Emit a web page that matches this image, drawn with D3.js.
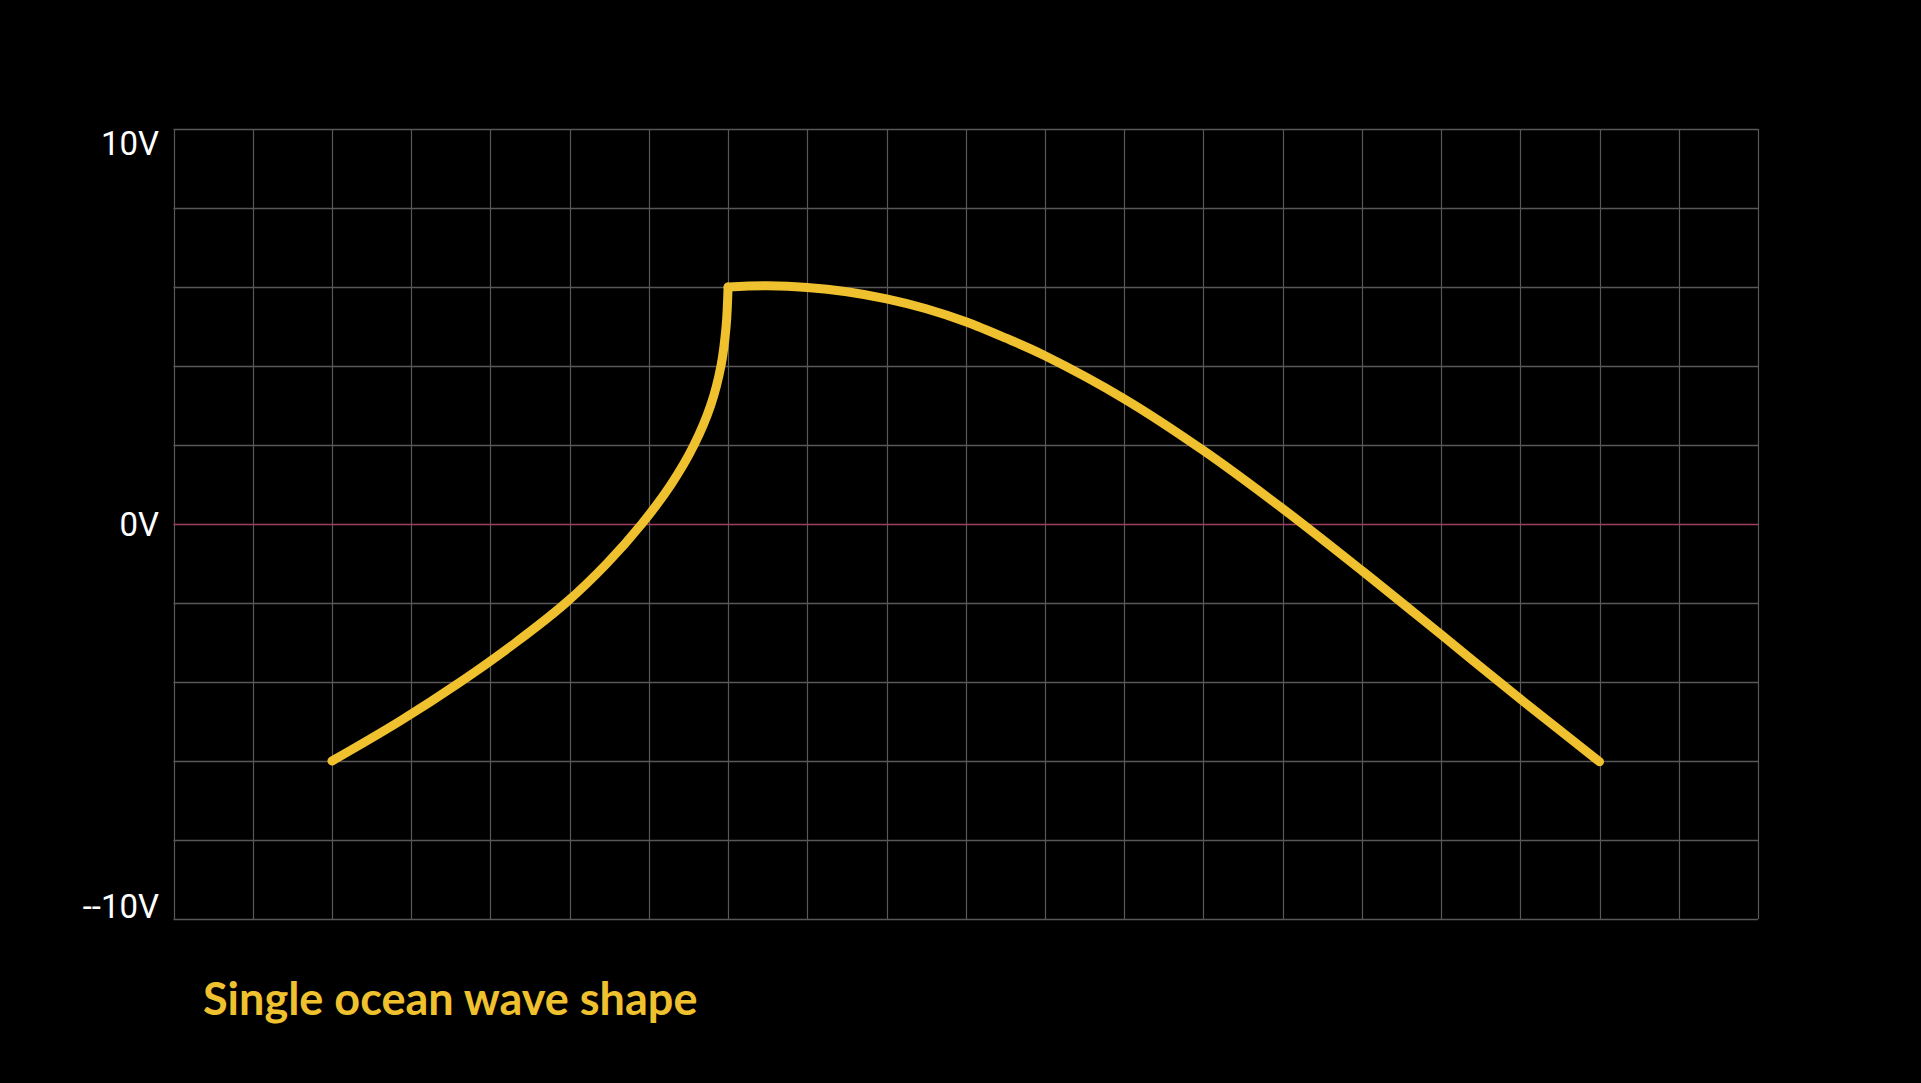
<!DOCTYPE html>
<html>
<head>
<meta charset="utf-8">
<script src="https://cdn.jsdelivr.net/npm/d3@7"></script>
<style>
  html, body { margin: 0; padding: 0; background: #000; }
  svg { display: block; }
</style>
</head>
<body>
<svg id="chart" width="1921" height="1083"></svg>
<script>
// ---- data ----
const titleText = "Single ocean wave shape";
const yTickValues = [10, 0, -10];
const yTickLabels = ["10V", "0V", "--10V"];
// rising front of the wave (time in grid columns, value in volts)
const riseTime  = [2, 2.85, 3.62, 4.32, 4.95, 5.47, 5.91, 6.28, 6.57, 6.78, 6.91, 6.975, 7];
const riseVolts = [-6, -5, -4, -3, -2, -1, 0, 1, 2, 3, 4, 5, 6];
// falling back of the wave
const fallTime  = [7, 7.5, 8, 8.5, 9, 9.5, 10, 10.5, 11, 12, 13, 14, 15, 16, 17, 18];
const fallVolts = [6, 6.03, 5.99, 5.88, 5.70, 5.45, 5.12, 4.71, 4.26, 3.17, 1.86, 0.39, -1.18, -2.80, -4.43, -6.02];

const xDomain = [0, 20];
const yDomain = [-10, 10];
const xGridCount = 20;
const yGridCount = 10;

// ---- layout ----
const svg = d3.select("#chart");
const plotLeft = 173.5, plotRight = 1758, plotTop = 129, plotBottom = 919;
const x = d3.scaleLinear().domain(xDomain).range([plotLeft, plotRight]);
const y = d3.scaleLinear().domain(yDomain).range([plotBottom, plotTop]);

const gridColor = "#585858";
const waveColor = "#EFC12E";

// vertical grid lines
const xTicks = d3.range(xDomain[0], xDomain[1] + 1e-9, (xDomain[1] - xDomain[0]) / xGridCount);
svg.append("g").selectAll("line").data(xTicks).join("line")
  .attr("x1", d => Math.round(x(d)) + 0.5).attr("x2", d => Math.round(x(d)) + 0.5)
  .attr("y1", plotTop).attr("y2", plotBottom)
  .attr("stroke", gridColor).attr("stroke-width", 1.2);

// horizontal grid lines
const yTicks = d3.range(yDomain[0], yDomain[1] + 1e-9, (yDomain[1] - yDomain[0]) / yGridCount);
svg.append("g").selectAll("line").data(yTicks).join("line")
  .attr("x1", plotLeft).attr("x2", plotRight)
  .attr("y1", d => Math.round(y(d)) + 0.5).attr("y2", d => Math.round(y(d)) + 0.5)
  .attr("stroke", d => Math.abs(d) < 1e-9 ? "#a33d5e" : gridColor)
  .attr("stroke-width", 1.5);

// y labels
const labelG = svg.append("g")
  .attr("font-family", "Roboto, 'Noto Sans', sans-serif")
  .attr("font-size", 33).attr("font-weight", 400)
  .attr("fill", "#ffffff").attr("text-anchor", "end");
yTickValues.forEach((v, i) => {
  const dy = v === yDomain[1] ? 26 : (v === yDomain[0] ? -1.5 : 12);
  labelG.append("text")
    .attr("x", 159).attr("y", y(v) + dy)
    .text(yTickLabels[i]);
});

// wave
const rise = riseTime.map((t, i) => [t, riseVolts[i]]);
const fall = fallTime.map((t, i) => [t, fallVolts[i]]);
const waveLine = d3.line().x(d => x(d[0])).y(d => y(d[1])).curve(d3.curveCatmullRom.alpha(0.5));
[rise, fall].forEach(data => {
  svg.append("path").datum(data)
    .attr("d", waveLine)
    .attr("fill", "none")
    .attr("stroke", waveColor)
    .attr("stroke-width", 9)
    .attr("stroke-linecap", "round")
    .attr("stroke-linejoin", "round");
});

// title
svg.append("text")
  .attr("x", 203).attr("y", 1015)
  .attr("font-family", "Lato, 'Open Sans', sans-serif")
  .attr("font-weight", 700)
  .attr("font-size", 45)
  .attr("fill", waveColor)
  .text(titleText);
</script>
</body>
</html>
